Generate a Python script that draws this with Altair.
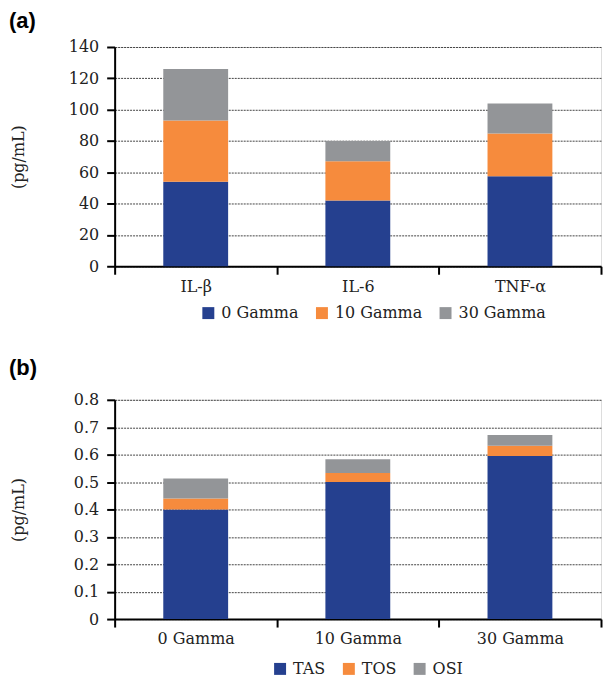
import altair as alt
import pandas as pd

# Panel (a)
cytokines = ["IL-β", "IL-6", "TNF-α"]
series_a = ["0 Gamma", "10 Gamma", "30 Gamma"]
a_0 = [54, 42, 57.5]
a_10 = [39, 25, 27.3]
a_30 = [33, 13, 19.2]
ticks_a = [0, 20, 40, 60, 80, 100, 120, 140]

# Panel (b)
gamma_groups = ["0 Gamma", "10 Gamma", "30 Gamma"]
series_b = ["TAS", "TOS", "OSI"]
b_tas = [0.40, 0.50, 0.595]
b_tos = [0.04, 0.033, 0.037]
b_osi = [0.073, 0.05, 0.04]
ticks_b = [0, 0.1, 0.2, 0.3, 0.4, 0.5, 0.6, 0.7, 0.8]

colors = ["#25408F", "#F68B3D", "#939598"]

def frame(cats, names, cols):
    rows = []
    for si, (name, vals) in enumerate(zip(names, cols)):
        for c, v in zip(cats, vals):
            rows.append({"cat": c, "series": name, "value": v, "ord": si})
    return pd.DataFrame(rows)

df_a = frame(cytokines, series_a, [a_0, a_10, a_30])
df_b = frame(gamma_groups, series_b, [b_tas, b_tos, b_osi])

SERIF = "DejaVu Serif"
W, H = 488, 220

def panel(df, cats, names, label, ymax, ticks, fmt, lx, ly, toff):
    return alt.Chart(df, title=alt.TitleParams(
        text=label, anchor="start", frame="bounds", font="Liberation Sans",
        fontSize=22, fontWeight="bold", color="black", offset=toff, dx=-2)
    ).mark_bar(width=alt.RelativeBandSize(0.4)).encode(
        x=alt.X("cat:N", sort=cats, title=None,
                scale=alt.Scale(paddingInner=0, paddingOuter=0),
                axis=alt.Axis(labelAngle=0, tickBand="extent", ticks=True,
                              tickSize=8, tickColor="black", tickWidth=2,
                              domainColor="black", domainWidth=2,
                              labelFont=SERIF, labelFontSize=16, labelColor="#222",
                              labelPadding=4, grid=False)),
        y=alt.Y("value:Q", stack="zero", title="(pg/mL)",
                scale=alt.Scale(domain=[0, ymax], nice=False),
                axis=alt.Axis(values=ticks, format=fmt, tickSize=8, tickColor="black",
                              tickWidth=2, domainColor="black", domainWidth=2,
                              labelFont=SERIF, labelFontSize=16, labelColor="#222",
                              labelPadding=8,
                              grid=True, gridColor="#444", gridDash=[2, 1], gridWidth=1,
                              titleFont=SERIF, titleFontSize=16, titleFontWeight="normal",
                              titleColor="#222", titleX=-88, titleY=H / 2)),
        color=alt.Color("series:N", scale=alt.Scale(domain=names, range=colors),
                        legend=alt.Legend(title=None, orient="none", direction="horizontal",
                                          legendX=lx, legendY=ly,
                                          symbolType="square", symbolSize=144,
                                          symbolStrokeWidth=0, labelFont=SERIF,
                                          labelFontSize=16, labelColor="#222",
                                          labelOffset=5, columnPadding=15)),
        order=alt.Order("ord:Q", sort="ascending"),
    ).properties(width=W, height=H)

pa = panel(df_a, cytokines, series_a, "(a)", 140, ticks_a, "d", 86, H + 39, 6)
pb = panel(df_b, gamma_groups, series_b, "(b)", 0.8, ticks_b, ".1~f", 158, H + 42, 12)

chart = alt.vconcat(pa, pb, spacing=34).resolve_scale(color="independent").properties(
    padding={"left": 0, "top": 0, "right": 0, "bottom": 0}
).configure_view(stroke=None).configure(background="white")

chart.save("out.html", embed_options={"renderer": "svg", "actions": False})
